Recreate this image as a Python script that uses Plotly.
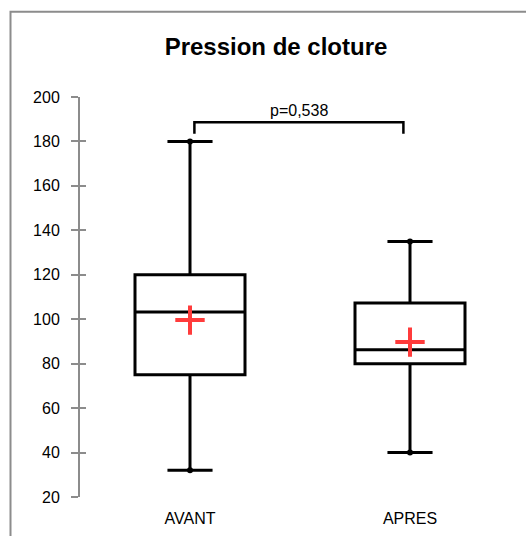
import plotly.graph_objects as go

categories = ["AVANT", "APRES"]
xpos = [1, 2]
q1 = [75, 80]
median = [103.3, 86.3]
q3 = [120, 107.3]
lower = [32, 40]
upper = [180, 135]
means = [99.6, 89.7]
p_text = "p=0,538"
bracket_y = 188.6
bracket_drop = 183.5
y_ticks = [20, 40, 60, 80, 100, 120, 140, 160, 180, 200]

FONT = "Liberation Sans"
W, H = 526, 536
L, T = 80, 97
plot_right = 520
plot_bottom = 497
R, B = W - plot_right, H - plot_bottom
pw, ph = plot_right - L, plot_bottom - T
px_per_unit = 220.0
x_lo = 1 - (190 - L) / px_per_unit
x_hi = x_lo + pw / px_per_unit

fig = go.Figure()
for i in range(2):
    fig.add_trace(go.Box(
        x=[xpos[i]], q1=[q1[i]], median=[median[i]], q3=[q3[i]],
        lowerfence=[lower[i]], upperfence=[upper[i]],
        width=0.5, whiskerwidth=0.41,
        fillcolor="white", line=dict(color="black", width=3),
        boxpoints=False, showlegend=False, hoverinfo="skip",
    ))
# whisker end dots
fig.add_trace(go.Scatter(
    x=xpos + xpos, y=lower + upper, mode="markers",
    marker=dict(color="black", size=6, symbol="circle"),
    showlegend=False, hoverinfo="skip"))
# means
fig.add_trace(go.Scatter(
    x=xpos, y=means, mode="markers",
    marker=dict(symbol="cross-thin", size=21, color="#FF3B3B",
                line=dict(color="#FF3B3B", width=4)),
    showlegend=False, hoverinfo="skip"))
# significance bracket
fig.add_trace(go.Scatter(
    x=[1.02, 1.02, 1.97, 1.97], y=[bracket_drop, bracket_y, bracket_y, bracket_drop],
    mode="lines", line=dict(color="black", width=2.5),
    showlegend=False, hoverinfo="skip"))
fig.add_annotation(x=(1.02 + 1.97) / 2, y=bracket_y, text=p_text, showarrow=False,
                   yanchor="bottom", yshift=1, font=dict(family=FONT, size=16, color="black"))

# chart border (top and left visible)
bx0, by0 = 10.5, 11.7
fig.add_shape(type="rect", xref="paper", yref="paper",
              x0=(bx0 - L) / pw, x1=(W + 20 - L) / pw,
              y0=-(H + 20 - plot_bottom) / ph,
              y1=(plot_bottom - by0) / ph,
              line=dict(color="#8c8c8c", width=2), fillcolor="rgba(0,0,0,0)", layer="below")

fig.update_layout(
    width=W, height=H,
    margin=dict(l=L, r=R, t=T, b=B),
    paper_bgcolor="white", plot_bgcolor="white",
    title=dict(text="<b>Pression de cloture</b>", x=276 / W, xanchor="center", xref="container",
               y=1 - 46.5 / H, yanchor="middle", yref="container",
               font=dict(family=FONT, size=24, color="black")),
    xaxis=dict(range=[x_lo, x_hi], tickvals=xpos, ticktext=categories,
               showline=False, showgrid=False, zeroline=False, ticks="",
               ticklabelstandoff=10, tickfont=dict(family=FONT, size=16, color="black")),
    yaxis=dict(range=[20, 200], tickvals=y_ticks, showgrid=False, zeroline=False,
               showline=True, linecolor="#8c8c8c", linewidth=2,
               ticks="outside", ticklen=7, tickwidth=2, tickcolor="#8c8c8c",
               ticklabelstandoff=8, tickfont=dict(family=FONT, size=16, color="black")),
    yaxis2=dict(range=[20, 200], tickvals=y_ticks, overlaying="y", side="left",
                showgrid=False, zeroline=False, showline=False, showticklabels=False,
                ticks="inside", ticklen=6, tickwidth=2, tickcolor="#8c8c8c"),
)
fig.add_trace(go.Scatter(x=[None], y=[None], yaxis="y2", showlegend=False))
fig.write_html("out.html", config={"displayModeBar": False},
               post_script="document.body.style.margin='0';document.body.style.overflow='hidden';")
